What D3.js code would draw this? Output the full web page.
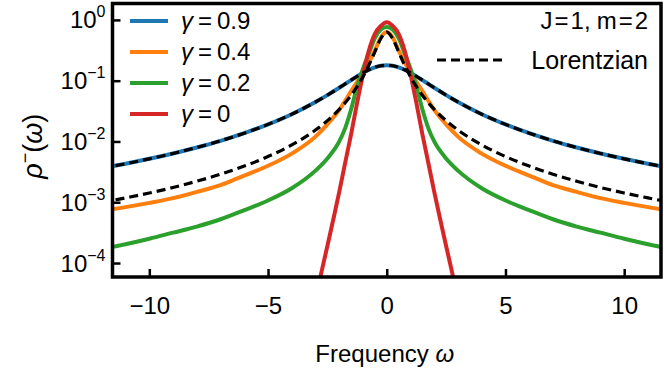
<!DOCTYPE html>
<html>
<head>
<meta charset="utf-8">
<script src="https://cdn.jsdelivr.net/npm/d3@7"></script>
<style>
  body { margin: 0; background: #fff; }
  svg { display: block; font-family: "Liberation Sans", Arial, sans-serif; }
</style>
</head>
<body>
<svg id="chart" width="664" height="375"></svg>
<script>
// frequency grid for the broad curves
const omega = [-12, -11, -10, -9, -8, -7, -6, -5, -4, -3, -2.5, -2, -1.75, -1.5, -1.25, -1, -0.75, -0.5, -0.25, 0,
  0.25, 0.5, 0.75, 1, 1.25, 1.5, 1.75, 2, 2.5, 3, 4, 5, 6, 7, 8, 9, 10, 11, 12];

// gamma = 0.9
const rhoG09 = [0.00363, 0.0043, 0.00518, 0.00635, 0.00796, 0.01025, 0.0137, 0.0191, 0.0281, 0.0446, 0.0579, 0.0766, 0.0885, 0.1023, 0.1178, 0.1345, 0.1513, 0.166, 0.1763, 0.18,
  0.1763, 0.166, 0.1513, 0.1345, 0.1178, 0.1023, 0.0885, 0.0766, 0.0579, 0.0446, 0.0281, 0.0191, 0.0137, 0.01025, 0.00796, 0.00635, 0.00518, 0.0043, 0.00363];
// gamma = 0.4
const rhoG04 = [0.000724, 0.000832, 0.000977, 0.00117, 0.00148, 0.00191, 0.00275, 0.00398, 0.00631, 0.012, 0.0191, 0.0331, 0.0468, 0.0676, 0.0955, 0.138, 0.2, 0.316, 0.513, 0.631,
  0.513, 0.316, 0.2, 0.138, 0.0955, 0.0676, 0.0468, 0.0331, 0.0191, 0.012, 0.00631, 0.00398, 0.00275, 0.00191, 0.00148, 0.00117, 0.000977, 0.000832, 0.000724];
// gamma = 0.2
const rhoG02 = [0.00017, 0.000204, 0.000251, 0.000316, 0.000398, 0.000525, 0.000741, 0.00107, 0.0017, 0.00331, 0.00525, 0.01, 0.0166, 0.0339, 0.0794, 0.158, 0.282, 0.501, 0.692, 0.767,
  0.692, 0.501, 0.282, 0.158, 0.0794, 0.0339, 0.0166, 0.01, 0.00525, 0.00331, 0.0017, 0.00107, 0.000741, 0.000525, 0.000398, 0.000316, 0.000251, 0.000204, 0.00017];
// Lorentzian fits (dashed)
const lorentzWide = [0.00363, 0.0043, 0.00518, 0.00635, 0.00796, 0.01025, 0.0137, 0.0191, 0.0281, 0.0446, 0.0579, 0.0766, 0.0885, 0.1023, 0.1178, 0.1345, 0.1513, 0.166, 0.1763, 0.18,
  0.1763, 0.166, 0.1513, 0.1345, 0.1178, 0.1023, 0.0885, 0.0766, 0.0579, 0.0446, 0.0281, 0.0191, 0.0137, 0.01025, 0.00796, 0.00635, 0.00518, 0.0043, 0.00363];
const lorentzNarrow = [0.000987, 0.00118, 0.00142, 0.00175, 0.00222, 0.00289, 0.00393, 0.00565, 0.00878, 0.0154, 0.022, 0.0337, 0.0433, 0.0575, 0.0796, 0.116, 0.181, 0.299, 0.494, 0.63,
  0.494, 0.299, 0.181, 0.116, 0.0796, 0.0575, 0.0433, 0.0337, 0.022, 0.0154, 0.00878, 0.00565, 0.00393, 0.00289, 0.00222, 0.00175, 0.00142, 0.00118, 0.000987];

// gamma = 0 has its own, finer grid
const omegaG0 = [-3.25, -3, -2.75, -2.5, -2.25, -2, -1.75, -1.5, -1.25, -1, -0.75, -0.5, -0.25, 0,
  0.25, 0.5, 0.75, 1, 1.25, 1.5, 1.75, 2, 2.25, 2.5, 2.75, 3, 3.25];
const rhoG0 = [8.91e-6, 2.51e-5, 7.08e-5, 0.000191, 0.000525, 0.00148, 0.00447, 0.0132, 0.0427, 0.126, 0.316, 0.589, 0.794, 0.912,
  0.794, 0.589, 0.316, 0.126, 0.0427, 0.0132, 0.00447, 0.00148, 0.000525, 0.000191, 7.08e-5, 2.51e-5, 8.91e-6];

const legendLabels = ['0.9', '0.4', '0.2', '0'];
const xTicks = [-10, -5, 0, 5, 10];
const yTickExponents = [0, -1, -2, -3, -4];

const colors = ['#1f77b4', '#ff7f0e', '#2ca02c', '#d62728'];
const minus = v => v < 0 ? '\u2212' + Math.abs(v) : String(v);

// --- layout ---
const svg = d3.select('#chart');
const frame = { left: 112.5, right: 661, top: 3.5, bottom: 277 };

const x = d3.scaleLinear().domain([-11.55, 11.55]).range([frame.left, frame.right]);
const y = d3.scaleLog().domain([Math.pow(10, -4.23), Math.pow(10, 0.27)]).range([frame.bottom, frame.top]);

svg.append('defs').append('clipPath').attr('id', 'plot-clip')
  .append('rect')
  .attr('x', frame.left).attr('y', frame.top)
  .attr('width', frame.right - frame.left).attr('height', frame.bottom - frame.top);

const plot = svg.append('g').attr('clip-path', 'url(#plot-clip)');

const line = (xs) => d3.line()
  .x((d, i) => x(xs[i]))
  .y(d => y(d))
  .curve(d3.curveMonotoneX);

// solid curves
const series = [
  { xs: omega, ys: rhoG09, color: colors[0] },
  { xs: omega, ys: rhoG04, color: colors[1] },
  { xs: omega, ys: rhoG02, color: colors[2] },
  { xs: omegaG0, ys: rhoG0, color: colors[3] }
];
series.forEach(s => {
  plot.append('path')
    .attr('d', line(s.xs)(s.ys))
    .attr('fill', 'none')
    .attr('stroke', s.color)
    .attr('stroke-width', 4)
    .attr('stroke-linejoin', 'round');
});

// dashed Lorentzians on top
[lorentzWide, lorentzNarrow].forEach(ys => {
  plot.append('path')
    .attr('d', line(omega)(ys))
    .attr('fill', 'none')
    .attr('stroke', '#000')
    .attr('stroke-width', 3.2)
    .attr('stroke-dasharray', '9,5');
});

// --- axes ---
const xAxis = d3.axisBottom(x).tickValues(xTicks).tickSize(0).tickPadding(0).tickFormat(minus);
const gx = svg.append('g').attr('transform', `translate(0,${frame.bottom})`).call(xAxis);
gx.select('.domain').remove();
gx.selectAll('.tick text')
  .attr('y', 37).attr('dy', null)
  .attr('font-size', 24).attr('fill', '#000')
  .attr('font-family', '"Liberation Sans", Arial, sans-serif');
gx.selectAll('.tick').append('line')
  .attr('y1', 0).attr('y2', -8)
  .attr('stroke', '#000').attr('stroke-width', 2.5);

const yAxis = d3.axisLeft(y).tickValues(yTickExponents.map(e => Math.pow(10, e))).tickSize(0).tickFormat('');
const gy = svg.append('g').attr('transform', `translate(${frame.left},0)`).call(yAxis);
gy.select('.domain').remove();
gy.selectAll('.tick').append('line')
  .attr('x1', 0).attr('x2', 8)
  .attr('stroke', '#000').attr('stroke-width', 2.5);
gy.selectAll('.tick').each(function (d, i) {
  const t = d3.select(this).append('text')
    .attr('x', -7).attr('y', 8)
    .attr('text-anchor', 'end')
    .attr('fill', '#000')
    .attr('font-size', 24);
  t.append('tspan').text('10');
  t.append('tspan').attr('dy', -11).attr('font-size', 16).text(minus(yTickExponents[i]));
});

// frame
svg.append('rect')
  .attr('x', frame.left).attr('y', frame.top)
  .attr('width', frame.right - frame.left).attr('height', frame.bottom - frame.top)
  .attr('fill', 'none').attr('stroke', '#000').attr('stroke-width', 3.5);

// axis labels
const xl = svg.append('text')
  .attr('x', (frame.left + frame.right) / 2 - 2).attr('y', 362)
  .attr('text-anchor', 'middle').attr('font-size', 24);
xl.append('tspan').text('Frequency ');
xl.append('tspan').attr('font-style', 'italic').text('\u03c9');

const yl = svg.append('text')
  .attr('transform', `translate(42,${(frame.top + frame.bottom) / 2 + 6}) rotate(-90)`)
  .attr('text-anchor', 'middle').attr('font-size', 27);
yl.append('tspan').attr('font-style', 'italic').text('\u03c1');
yl.append('tspan').attr('dy', -11).attr('font-size', 18).text('\u2212');
yl.append('tspan').attr('dy', 11).text('(');
yl.append('tspan').attr('font-style', 'italic').text('\u03c9');
yl.append('tspan').text(')');

// --- legend ---
const legend = svg.append('g');
legendLabels.forEach((lab, i) => {
  const ly = 21 + i * 31;
  legend.append('line')
    .attr('x1', 130).attr('x2', 168).attr('y1', ly).attr('y2', ly)
    .attr('stroke', colors[i]).attr('stroke-width', 4);
  const t = legend.append('text').attr('x', 181).attr('y', ly + 8).attr('font-size', 24);
  t.append('tspan').attr('font-style', 'italic').text('\u03b3');
  t.append('tspan').attr('dx', 5).text('=');
  t.append('tspan').attr('dx', 5).text(lab);
});

const jm = svg.append('text').attr('x', 648).attr('y', 29).attr('text-anchor', 'end').attr('font-size', 24);
jm.append('tspan').text('J');
jm.append('tspan').attr('dx', 2).text('=');
jm.append('tspan').attr('dx', 2).text('1,');
jm.append('tspan').attr('dx', 6).text('m');
jm.append('tspan').attr('dx', 2).text('=');
jm.append('tspan').attr('dx', 2).text('2');

legend.append('line')
  .attr('x1', 437).attr('x2', 507).attr('y1', 60).attr('y2', 60)
  .attr('stroke', '#000').attr('stroke-width', 3.2).attr('stroke-dasharray', '9,5');
svg.append('text').attr('x', 648).attr('y', 69).attr('text-anchor', 'end')
  .attr('font-size', 25).text('Lorentzian');
</script>
</body>
</html>
